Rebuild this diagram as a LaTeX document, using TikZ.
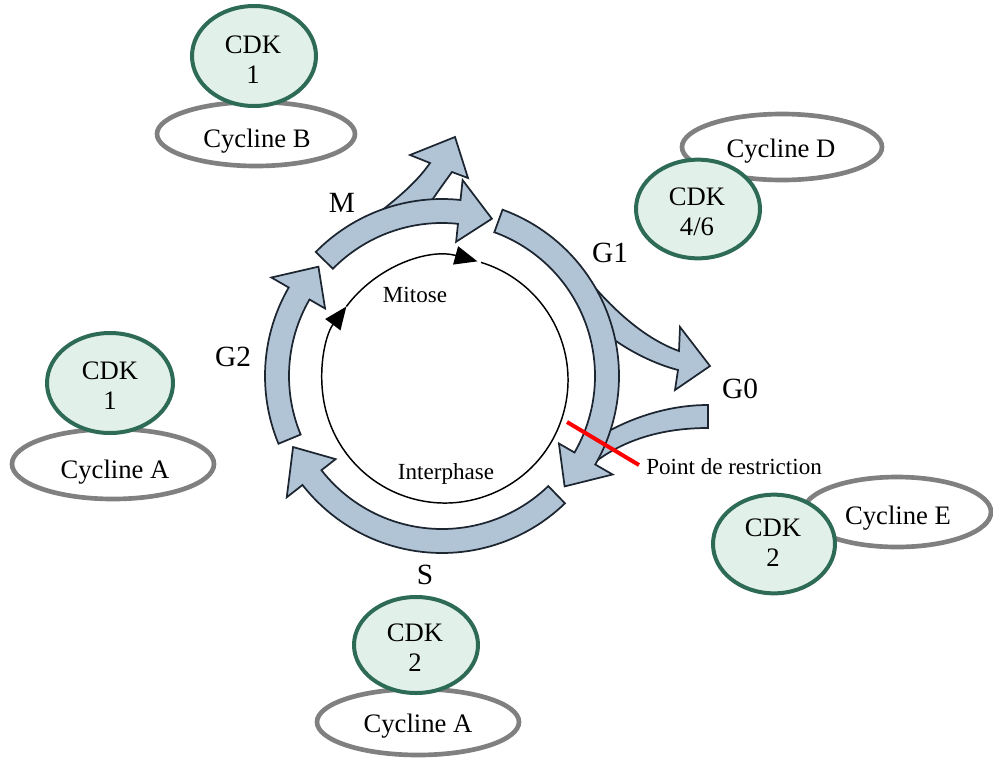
\documentclass[tikz,border=0pt]{standalone}
\usepackage{fontspec}
\setmainfont{Liberation Serif}
\usetikzlibrary{calc,shapes.geometric,arrows.meta}
\definecolor{cdkfill}{HTML}{E2F0EA}
\definecolor{cdkline}{HTML}{2E6B57}
\definecolor{cycline}{HTML}{808080}
\definecolor{bandfill}{HTML}{B0C4D6}
\definecolor{bandline}{HTML}{1C2530}
% ring block arrow: #1 tail angle, #2 head base angle, #3 tip angle
\newcommand\ringarrow[3]{%
  \filldraw[band] ($(C)+(#1:177)$) arc[start angle=#1, end angle=#2, radius=177]
    -- ($(C)+(#2:197)$) -- ($(C)+(#3:165)$) -- ($(C)+(#2:135)$) -- ($(C)+(#2:153)$)
    arc[start angle=#2, end angle=#1, radius=153] -- cycle;}
\begin{document}
\begin{tikzpicture}[x=0.75pt,y=-0.75pt,
  band/.style={fill=bandfill, draw=bandline, line width=1.3pt, line join=miter},
  cdk/.style={ellipse, draw=cdkline, fill=cdkfill, line width=3pt, inner sep=0pt,
    minimum width=93pt, minimum height=74pt},
  cyc/.style={ellipse, draw=cycline, fill=white, line width=3.5pt, inner sep=0pt,
    minimum width=150pt, minimum height=50pt},
  txt/.style={inner sep=0pt, text depth=0pt, font=\fontsize{20}{22.5}\selectfont, align=center},
  big/.style={inner sep=0pt, text depth=0pt, font=\fontsize{22}{26}\selectfont},
  small/.style={inner sep=0pt, text depth=0pt, font=\fontsize{17.3}{20}\selectfont},
  cycarrow/.style={line width=1.1pt, -{Triangle[length=17pt, width=14pt]}}]
\useasboundingbox (0,0) rectangle (993,758);
\coordinate (C) at (442,376);
\coordinate (I) at (445,380);

% inner circle
\draw[cycarrow] ($(I)+(-73:123)$) arc[start angle=-73, end angle=216.7, radius=123];
\draw[cycarrow] ($(I)+(-143.3:123)$) arc[start angle=-143.3, end angle=-74.7, radius=123];

% branch from M
\filldraw[band] (372,218) .. controls (390,204) and (415,185) .. (430,163)
  -- (410,155) -- (455,137) -- (468,178) -- (452,172)
  .. controls (444,183) and (436,194) .. (424,212) -- cycle;
% branch to G0
\filldraw[band] (590,282) .. controls (608,303) and (640,337) .. (679,351)
  -- (680,327) -- (710,366) -- (675,390) -- (678,370)
  .. controls (655,364) and (630,352) .. (606,334) -- cycle;
% return from G0
\filldraw[band] (708,405) -- (708,428) .. controls (668,428) and (625,437) .. (590,466)
  -- (600,436) .. controls (630,418) and (668,405) .. (708,405) -- cycle;

% ring arrows
\ringarrow{-70}{30}{42}
\ringarrow{46}{142}{154.5}
\ringarrow{157.5}{210}{221.5}
\ringarrow{-135.5}{-84}{-72.4}

% restriction point
\coordinate (r1) at (567,422);
\coordinate (r2) at (639,465);
\draw[red, line width=3pt] (r1) -- (r2);

% labels of the cycle
\node[big] (lM) at (342,203) {M};
\node[big] (lG1) at (610,253) {G1};
\node[big] (lG0) at (740,389) {G0};
\node[big] (lG2) at (233,357) {G2};
\node[big] (lS) at (425,575) {S};
\node[small] (lmit) at (415,295) {Mitose};
\node[small] (linter) at (446,471) {Interphase};
\node[small, anchor=west] (lpr) at (646,466) {Point de restriction};

% cyclines
\node[cyc, minimum width=148.5pt, minimum height=48pt] (cB) at (256,134) {};
\node[cyc, minimum width=150pt, minimum height=49.5pt] (cD) at (782,147) {};
\node[cyc, minimum width=141pt, minimum height=52.5pt] (cE) at (897,512) {};
\node[cyc, minimum width=151.5pt, minimum height=52.5pt] (cAl) at (113,464) {};
\node[cyc, minimum width=151.5pt, minimum height=49.5pt] (cAb) at (418,722) {};

% CDKs
\node[cdk, minimum height=75pt] (k1t) at (254,56) {};
\node[cdk] (k46) at (698,209) {};
\node[cdk, minimum width=94.5pt, minimum height=75pt] (k1l) at (110,383) {};
\node[cdk, minimum width=91.5pt] (k2r) at (774,544) {};
\node[cdk, minimum height=72pt] (k2b) at (416,645) {};

% texts
\node[txt] (tB) at (257,138) {Cycline B};
\node[txt] (tD) at (781,148) {Cycline D};
\node[txt] (tE) at (898,515) {Cycline E};
\node[txt] (tAl) at (115,469) {Cycline A};
\node[txt] (tAb) at (418,723) {Cycline A};
\node[txt] (t1t) at (253,60) {CDK\\1};
\node[txt] (t46) at (697,212) {CDK\\4/6};
\node[txt] (t1l) at (110,386) {CDK\\1};
\node[txt] (t2r) at (773,543) {CDK\\2};
\node[txt] (t2b) at (415,648) {CDK\\2};
\end{tikzpicture}
\end{document}
